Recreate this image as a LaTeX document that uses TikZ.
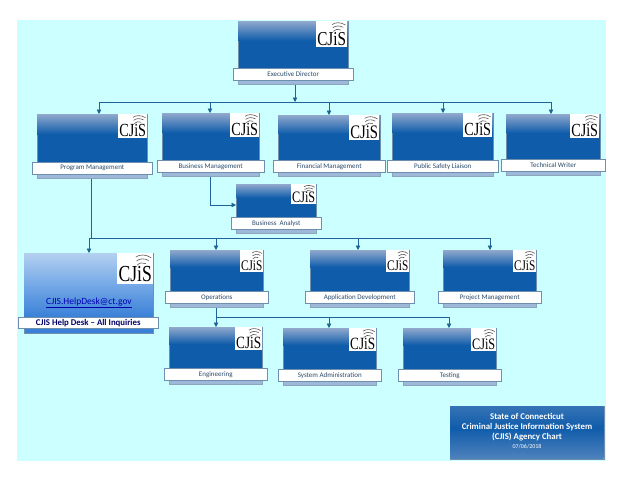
\documentclass[tikz,border=0pt]{standalone}
\usepackage{fontspec}
\usepackage{graphicx}
\setmainfont{Carlito}
\newfontfamily\logofont{Liberation Serif}
\usetikzlibrary{arrows.meta,calc}
\definecolor{pagecyan}{HTML}{CCFFFF}
\definecolor{boxblue}{HTML}{0F5CAB}
\definecolor{boxtop}{HTML}{8FA8CC}
\definecolor{stripblue}{HTML}{9DB8D8}
\definecolor{edgeblue}{HTML}{6F8FAF}
\definecolor{linkblue}{HTML}{1F6496}
\definecolor{labeltext}{HTML}{2A4A6A}
\definecolor{helptop}{HTML}{B4D0F0}
\definecolor{helpmid}{HTML}{74A8E6}
\definecolor{helpbot}{HTML}{3A80D8}
\tikzset{
  cardlabel/.style={draw=edgeblue,line width=.5pt,fill=white,inner sep=0pt,text=labeltext,font=\fontsize{7}{8}\selectfont,anchor=north west},
  cardstrip/.style={draw=edgeblue!80,line width=.3pt,fill=stripblue,inner sep=0pt,anchor=north west},
  cardbody/.style={draw=edgeblue,line width=.4pt,fill=boxblue,inner sep=0pt,anchor=north west},
  logobox/.style={fill=white,inner sep=0pt,anchor=north west},
  conn/.style={draw=linkblue,line width=.7pt},
  connarrow/.style={conn,-{Triangle[length=4.5pt,width=4.5pt]}}
}
\newcommand{\card}[9]{%
  \pgfmathsetmacro{\wb}{#4-#2}\pgfmathsetmacro{\hb}{#5-#3}\pgfmathsetmacro{\fb}{\hb*0.42}%
  \pgfmathsetmacro{\wl}{\wb+10}%
  \node[cardstrip,minimum width=\wb pt,minimum height=16pt] (#1strip) at (#2,#5) {};
  \node[cardbody,minimum width=\wb pt,minimum height=\hb pt] (#1) at (#2,#3) {};
  \shade[top color=boxtop,bottom color=boxblue] (#2+.2,#3+.2) rectangle (#4-.2,#3+\fb);
  \node[cardlabel,minimum width=\wl pt,minimum height=12pt] (#1label) at (#2-5,#5) {#9};
  \node[anchor=north,inner sep=0pt,minimum width=\wb pt,minimum height=4pt] (#1foot) at (#1label.south) {};
  \logomark{#1}{#6}{#3}{#7}{#8}%
}
\newcommand{\logomark}[5]{%
  \pgfmathsetmacro{\fs}{#4*0.49}%
  \node[logobox,minimum width=#4 pt,minimum height=#5 pt] (#1logo) at (#2,#3) {};
  \node[inner sep=0pt,anchor=south,text=black] (#1logotext) at ($(#1logo.south)+(0,-.07*#5)$) {\scalebox{1}[1.3]{\fontsize{\fs}{\fs}\logofont CJiS}};
  \begin{scope}[shift={(#1logo.south west)},x=#4 pt,y=-#5 pt,line width=.6pt,draw=black!65]
    \draw (.56,-.62) .. controls (.62,-.70) and (.72,-.72) .. (.8,-.67);
    \draw (.54,-.75) .. controls (.62,-.84) and (.76,-.85) .. (.88,-.77);
    \draw (.52,-.88) .. controls (.62,-.97) and (.8,-.98) .. (.95,-.86);
  \end{scope}%
}
\begin{document}
\begin{tikzpicture}[x=1pt,y=-1pt]
\useasboundingbox (0,0) rectangle (623,482);
\fill[white] (0,0) rectangle (623,482);
\fill[pagecyan] (17,20) rectangle (606,461);

\card{exec}{238}{21}{348}{68}{316}{31}{26}{Executive Director}
\card{prog}{37}{114}{147}{162}{118}{29}{24}{Program Management}
\card{busi}{162}{113}{259}{160}{230}{29}{24}{Business Management}
\card{fina}{278}{115}{380}{160}{349}{30}{25}{Financial Management}
\card{publ}{392}{113}{493}{160}{463}{29}{24}{Public Safety Liaison}
\card{tech}{506}{114}{600}{159}{570}{29}{24}{Technical Writer}
\card{anal}{236}{184}{316}{217}{291}{25}{20}{Business\ \ Analyst}
\card{oper}{170}{250}{263}{291}{240}{23}{22}{Operations}
\card{appd}{310}{250}{409}{291}{386}{23}{22}{Application Development}
\card{proj}{443}{250}{536}{291}{513}{23}{22}{Project Management}
\card{engi}{169}{327}{262}{368}{235}{27}{23}{Engineering}
\card{sysa}{283}{328}{376}{369}{349}{27}{23}{System Administration}
\card{test}{403}{328}{496}{369}{471}{25}{23}{Testing}

% help desk
\node[draw=edgeblue,line width=.4pt,fill=helpbot,inner sep=0pt,anchor=north west,minimum width=129pt,minimum height=80pt] (help) at (24,253) {};
\shade[top color=helptop,bottom color=helpmid] (24.2,253.2) rectangle (152.8,285);
\shade[top color=helpmid,bottom color=helpbot] (24.2,285) rectangle (152.8,317);
\logomark{help}{117}{253}{36}{31}
\node[inner sep=0pt,text=blue!70!black,font=\fontsize{9.5}{10}\selectfont] (helpmail) at (89,303) {\underline{CJIS.HelpDesk@ct.gov}};
\node[draw=edgeblue,line width=.5pt,fill=white,inner sep=0pt,anchor=north west,minimum width=140pt,minimum height=11pt,text=blue!40!black,font=\fontsize{8.8}{9}\selectfont\bfseries] (helplabel) at (18,317) {CJIS Help Desk -- All Inquiries};

% title
\node[draw=edgeblue,line width=.5pt,inner sep=0pt,anchor=north west,minimum width=154pt,minimum height=53pt] (title) at (450,406) {};
\shade[top color=boxblue!70!boxtop,bottom color=boxblue] (450.3,406.3) rectangle (603.7,428);
\shade[top color=boxblue,bottom color=boxblue!50!boxtop] (450.3,428) rectangle (603.7,458.7);
\node[inner sep=0pt,align=center,text=white,font=\fontsize{8.8}{9.6}\selectfont\bfseries] (titletext) at (527,431) {State of Connecticut\\Criminal Justice Information System\\(CJIS) Agency Chart\\[-.5pt]{\mdseries\fontsize{6}{7}\selectfont 07/06/2018}};

% connectors
\coordinate (busA) at (295,102);
\coordinate (busAL) at (99,102);
\coordinate (busAR) at (551,102);
\coordinate (dropBusi) at (210,102);
\coordinate (dropFina) at (329,102);
\coordinate (dropPubl) at (443,102);
\draw[connarrow] (busA |- execfoot.south) -- (busA);
\draw[conn] (busAL) -- (busAR);
\draw[connarrow] (busAL) -- (busAL |- prog.north);
\draw[connarrow] (dropBusi) -- (dropBusi |- busi.north);
\draw[connarrow] (dropFina) -- (dropFina |- fina.north);
\draw[connarrow] (dropPubl) -- (dropPubl |- publ.north);
\draw[connarrow] (busAR) -- (busAR |- tech.north);

\coordinate (busAnal) at (210,205);
\draw[connarrow] (busAnal |- busifoot.south) -- (busAnal) -- (busAnal -| anal.west);

\coordinate (busB) at (91,238);
\coordinate (busBL) at (89,238);
\coordinate (busBO) at (216,238);
\coordinate (busBA) at (358,238);
\coordinate (busBR) at (490,238);
\draw[conn] (busB |- progfoot.south) -- (busB);
\draw[conn] (busBL) -- (busBR);
\draw[connarrow] (busBL) -- (busBL |- help.north);
\draw[connarrow] (busBO) -- (busBO |- oper.north);
\draw[connarrow] (busBA) -- (busBA |- appd.north);
\draw[connarrow] (busBR) -- (busBR |- proj.north);

\coordinate (busC) at (216,317);
\coordinate (busCS) at (329,317);
\coordinate (busCR) at (449,317);
\draw[conn] (busC |- operfoot.south) -- (busC);
\draw[conn] (busC) -- (busCR);
\draw[connarrow] (busC) -- (busC |- engi.north);
\draw[connarrow] (busCS) -- (busCS |- sysa.north);
\draw[connarrow] (busCR) -- (busCR |- test.north);
\end{tikzpicture}
\end{document}
